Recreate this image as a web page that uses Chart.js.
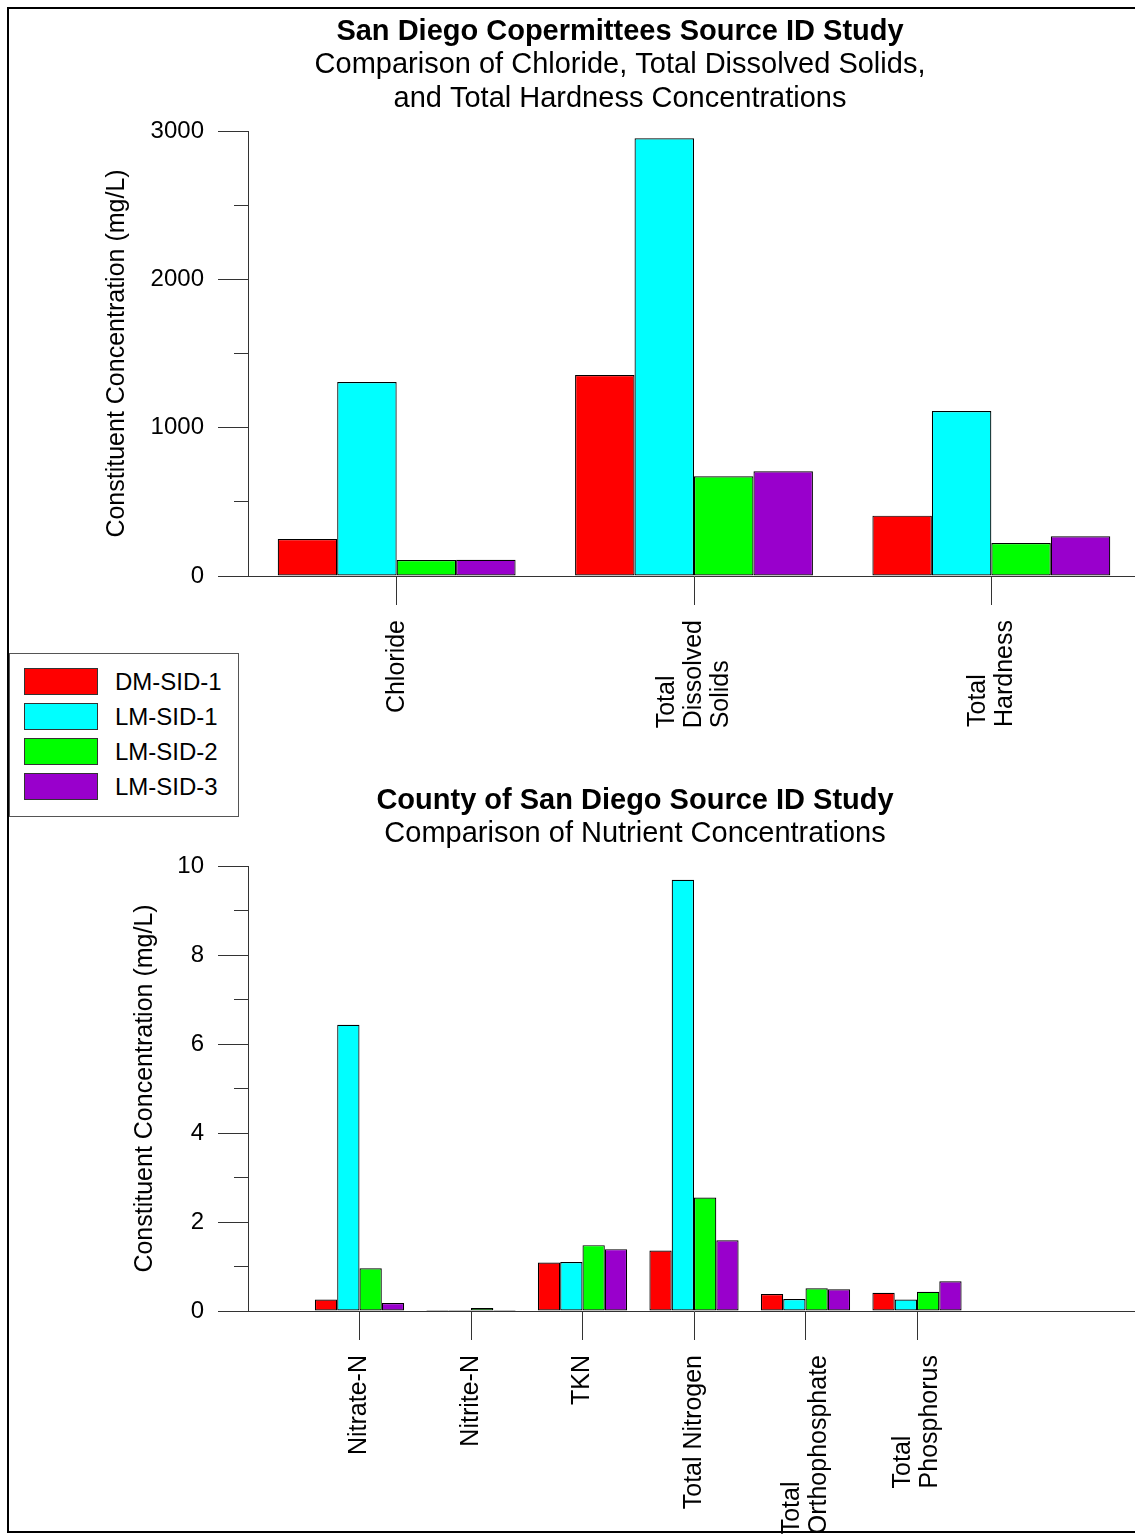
<!DOCTYPE html>
<html><head><meta charset="utf-8">
<script src="https://cdn.jsdelivr.net/npm/chart.js@4.4.1/dist/chart.umd.min.js"></script>
<style>
html,body{margin:0;padding:0;background:#fff;overflow:hidden;width:1135px;height:1535px;}
#wrap{position:relative;width:1135px;height:1535px;overflow:hidden;}
canvas{position:absolute;left:0;}
#c1{top:0;}
#c2{top:760px;}
#frame{position:absolute;left:7px;top:7px;width:1160px;height:1522px;border:2px solid #000;pointer-events:none;}
#legend{position:absolute;left:9px;top:653px;width:228px;height:162px;border:1px solid #555;background:#fff;font:24px "Liberation Sans",Arial,sans-serif;color:#000;}
.item{position:absolute;left:14px;height:27px;display:flex;align-items:center;white-space:nowrap;}
.sw{width:72px;height:25px;border:1px solid #333;margin-right:17px;flex:none;}
</style>
</head><body>
<div id="wrap">
<canvas id="c1" width="1140" height="760"></canvas>
<canvas id="c2" width="1140" height="775"></canvas>
<div id="frame"></div>
<div id="legend"></div>
</div>
<script>
// ---- data ----
const seriesNames = ['DM-SID-1', 'LM-SID-1', 'LM-SID-2', 'LM-SID-3'];
const seriesColors = ['#ff0000', '#00ffff', '#00ff00', '#9900cc'];

const chemCategories = ['Chloride', ['Total', 'Dissolved', 'Solids'], ['Total', 'Hardness']];
const chemDM1 = [249, 1355, 407];
const chemLM1 = [1308, 2951, 1112];
const chemLM2 = [108, 672, 222];
const chemLM3 = [110, 706, 268];
const chemTickValues = [0, 1000, 2000, 3000];

const nutrientCategories = ['Nitrate-N', 'Nitrite-N', 'TKN', 'Total Nitrogen', ['Total', 'Orthophosphate'], ['Total', 'Phosphorus']];
const nutDM1 = [0.26, 0.02, 1.09, 1.36, 0.38, 0.41];
const nutLM1 = [6.43, 0.02, 1.10, 9.69, 0.27, 0.26];
const nutLM2 = [0.96, 0.07, 1.48, 2.55, 0.51, 0.43];
const nutLM3 = [0.18, 0.02, 1.39, 1.59, 0.49, 0.67];
const nutTickValues = [0, 2, 4, 6, 8, 10];

// ---- setup ----
Chart.defaults.font.family = '"Liberation Sans", Arial, Helvetica, sans-serif';
Chart.defaults.font.size = 24;
Chart.defaults.color = '#000';

const XFONT = '25px "Liberation Sans", Arial, Helvetica, sans-serif';

const xLabelPlugin = {
  id: 'xLabels',
  afterDraw(chart, args, opts) {
    const scale = chart.scales.x;
    const ctx = chart.ctx;
    const labels = chart.data.labels;
    ctx.save();
    ctx.font = XFONT;
    ctx.fillStyle = '#000';
    ctx.textAlign = 'left';
    ctx.textBaseline = 'middle';
    labels.forEach((lab, i) => {
      if (!lab) return;
      const lines = Array.isArray(lab) ? lab : [lab];
      const cx = scale.getPixelForValue(i);
      let maxW = 0;
      lines.forEach(l => { maxW = Math.max(maxW, ctx.measureText(l).width); });
      const y0 = scale.top + opts.tickLength + opts.pad + maxW;
      lines.forEach((l, k) => {
        const lx = cx + (k - (lines.length - 1) / 2) * opts.lineGap;
        ctx.save();
        ctx.translate(lx, y0);
        ctx.rotate(-Math.PI / 2);
        ctx.fillText(l, 0, 0);
        ctx.restore();
      });
    });
    ctx.restore();
  }
};

function buildChart(id, o) {
  const AX = '#333';
  return new Chart(document.getElementById(id), {
    type: 'bar',
    data: {
      labels: o.labels,
      datasets: o.series.map((d, k) => ({
        label: seriesNames[k],
        data: d,
        backgroundColor: seriesColors[k],
        borderColor: '#000',
        borderWidth: 1.2,
        borderSkipped: false,
        categoryPercentage: 0.8,
        barPercentage: 1.0
      }))
    },
    options: {
      responsive: false,
      animation: false,
      devicePixelRatio: 1,
      layout: { padding: { top: o.padTop, left: o.padLeft, right: 0, bottom: 0 } },
      plugins: {
        legend: { display: false },
        tooltip: { enabled: false },
        title: { display: true, text: o.title, color: '#000', font: { size: 29, weight: 'bold', lineHeight: '33.5px' }, padding: 0 },
        subtitle: { display: true, text: o.subtitle, color: '#000', font: { size: 29, weight: 'normal', lineHeight: '33.5px' }, padding: { top: 0, bottom: o.subPadBottom } },
        xLabels: { tickLength: 29, pad: 15, lineGap: 27 }
      },
      scales: {
        x: {
          type: 'category',
          offset: o.offset,
          grid: {
            offset: false,
            drawOnChartArea: false,
            tickLength: 29,
            lineWidth: 1,
            color: c => (c.chart.data.labels[c.index] ? AX : 'rgba(0,0,0,0)')
          },
          border: { color: AX, width: 1 },
          ticks: { display: false, autoSkip: false },
          afterFit: s => { s.height = o.xHeight; }
        },
        y: {
          type: 'linear',
          position: 'left',
          weight: 1,
          min: 0,
          max: o.max,
          afterBuildTicks: s => { s.ticks = o.tickValues.map(v => ({ value: v })); },
          ticks: { padding: 14, color: '#000', font: { size: 24 }, callback: v => String(v) },
          grid: { drawOnChartArea: false, tickLength: 30, color: AX },
          border: { color: AX, width: 1 },
          title: { display: true, text: 'Constituent Concentration (mg/L)', color: '#000', font: { size: 25 }, padding: { top: o.yTitlePad, bottom: 0 } },
          afterFit: s => { s.width = o.yWidth; }
        },
        yMinor: {
          type: 'linear',
          position: 'left',
          weight: 0,
          min: 0,
          max: o.max,
          ticks: { display: false, stepSize: o.minorStep },
          grid: { drawOnChartArea: false, tickLength: 14, color: AX },
          border: { display: false },
          afterFit: s => { s.width = 0; }
        }
      }
    },
    plugins: [xLabelPlugin]
  });
}

buildChart('c1', {
  labels: chemCategories,
  series: [chemDM1, chemLM1, chemLM2, chemLM3],
  title: 'San Diego Copermittees Source ID Study',
  subtitle: ['Comparison of Chloride, Total Dissolved Solids,', 'and Total Hardness Concentrations'],
  padTop: 15, padLeft: 100, subPadBottom: 15.5,
  offset: true, xHeight: 184, max: 3000, tickValues: chemTickValues, minorStep: 500,
  yWidth: 148, yTitlePad: 2
});

const padCats = ['', ...nutrientCategories, '', ''];
const pad = arr => [null, ...arr, null, null];
buildChart('c2', {
  labels: padCats,
  series: [pad(nutDM1), pad(nutLM1), pad(nutLM2), pad(nutLM3)],
  title: 'County of San Diego Source ID Study',
  subtitle: 'Comparison of Nutrient Concentrations',
  padTop: 24, padLeft: 130, subPadBottom: 15,
  offset: false, xHeight: 224, max: 10, tickValues: nutTickValues, minorStep: 1,
  yWidth: 118, yTitlePad: 0
});

// ---- HTML legend ----
const legend = document.getElementById('legend');
seriesNames.forEach((name, k) => {
  const it = document.createElement('div');
  it.className = 'item';
  it.style.top = (14 + k * 35) + 'px';
  const sw = document.createElement('div');
  sw.className = 'sw';
  sw.style.background = seriesColors[k];
  const tx = document.createElement('span');
  tx.textContent = name;
  it.appendChild(sw);
  it.appendChild(tx);
  legend.appendChild(it);
});
</script>
</body></html>
